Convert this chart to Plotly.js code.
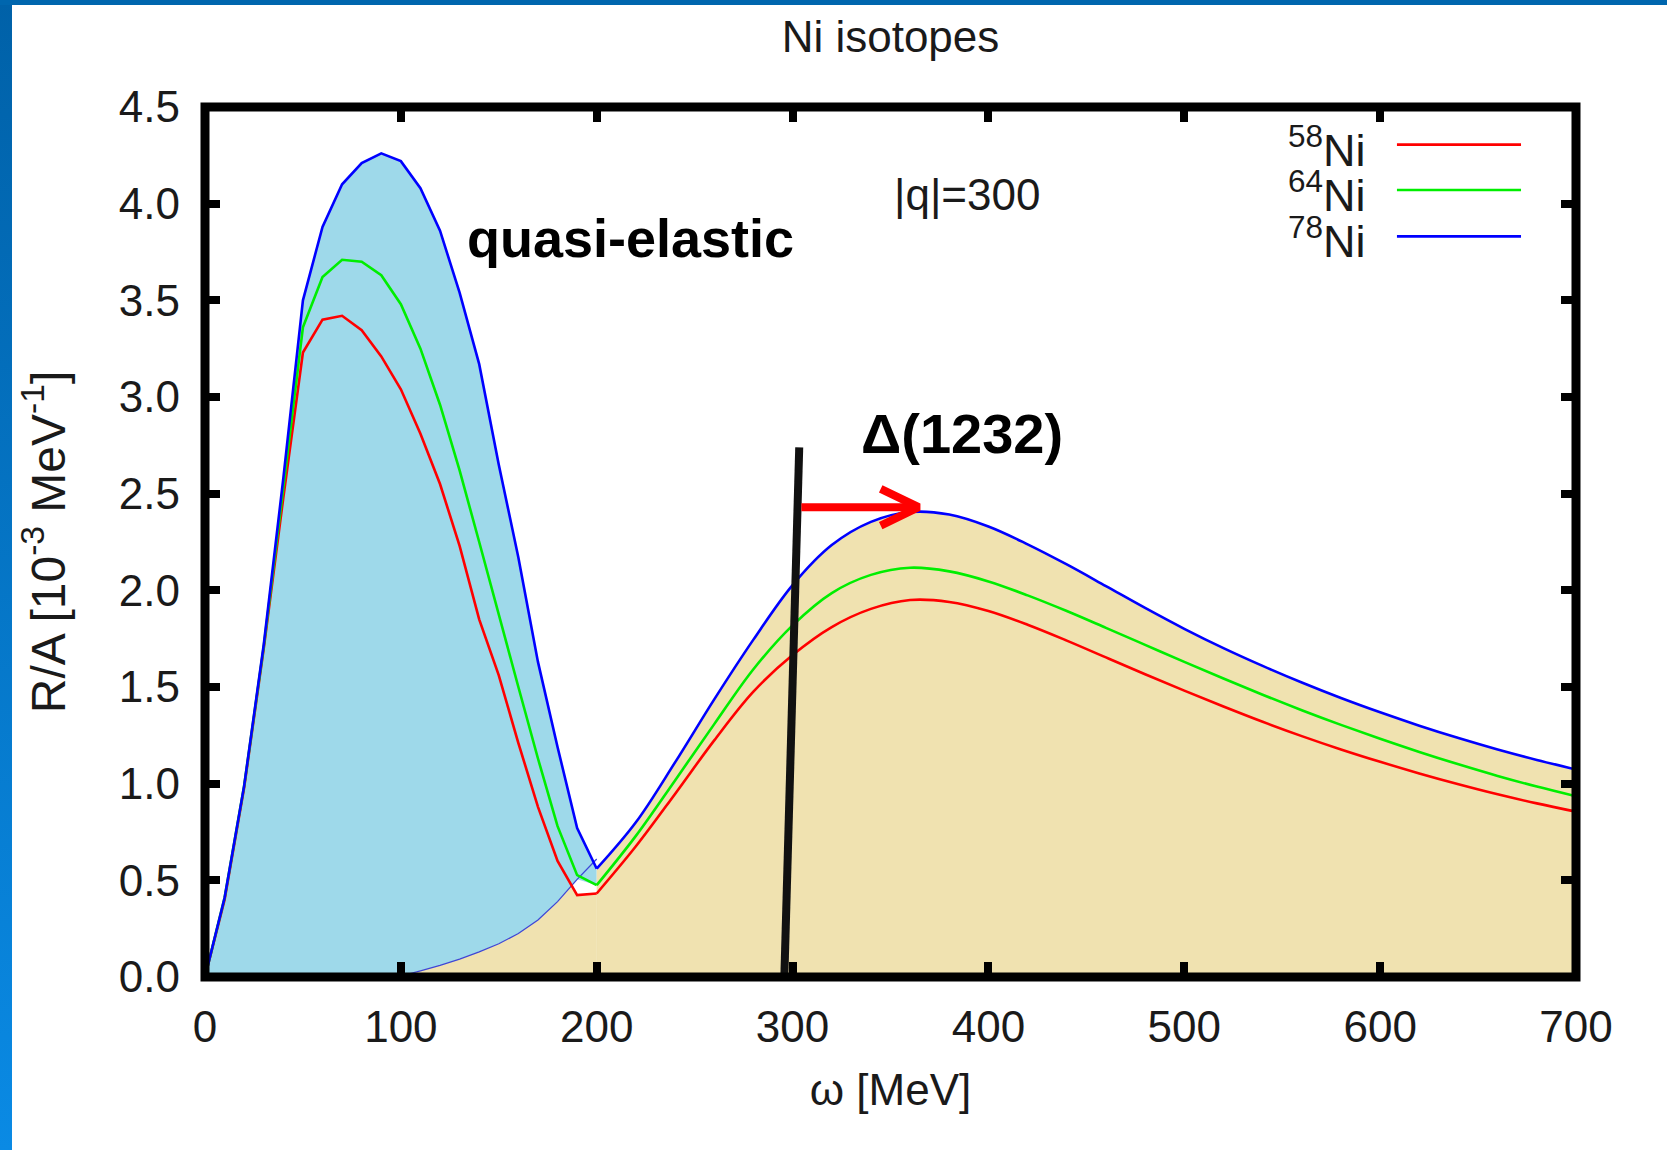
<!DOCTYPE html>
<html>
<head>
<meta charset="utf-8">
<script src="https://cdn.plot.ly/plotly-3.0.1.min.js"></script>
<style>
html,body{margin:0;padding:0;background:#fff;}
#wrap{position:relative;width:1667px;height:1150px;overflow:hidden;background:#fff;}
#chart{position:absolute;left:0;top:0;width:1667px;height:1150px;}
#edgeLeft{position:absolute;left:0;top:0;width:12px;height:1150px;background:linear-gradient(#0061a8,#0a8ae4);z-index:5;}
#edgeTop{position:absolute;left:0;top:0;width:1667px;height:5px;background:#0066ae;z-index:6;}
</style>
</head>
<body>
<div id="wrap"><div id="chart"></div><div id="edgeLeft"></div><div id="edgeTop"></div></div>
<script>
// ---------- data ----------
// quasi-elastic region, omega = 0..200 MeV
const omegaQE = [0,10,20,30,40,50,60,70,80,90,100,110,120,130,140,150,160,170,180,190,200];
const qe58 = [0.00,0.40,0.98,1.70,2.48,3.23,3.40,3.42,3.345,3.21,3.04,2.81,2.55,2.23,1.85,1.56,1.21,0.88,0.60,0.424,0.432];
const qe64 = [0.00,0.41,0.99,1.71,2.53,3.36,3.62,3.71,3.70,3.63,3.48,3.25,2.96,2.62,2.25,1.87,1.50,1.13,0.78,0.527,0.475];
const qe78 = [0.00,0.41,0.99,1.72,2.58,3.50,3.88,4.10,4.21,4.26,4.22,4.08,3.86,3.54,3.17,2.65,2.17,1.63,1.19,0.77,0.56];

// Delta(1232) region, omega = 220..700 MeV
const omegaDelta = [220,240,260,280,300,320,340,360,380,400,420,440,460,480,500,520,540,560,580,600,620,640,660,680,700];
const delta58 = [0.676,0.947,1.224,1.476,1.665,1.810,1.904,1.950,1.940,1.893,1.822,1.740,1.653,1.566,1.481,1.399,1.320,1.246,1.177,1.113,1.053,0.997,0.945,0.898,0.855];
const delta64 = [0.730,1.017,1.308,1.592,1.819,1.986,2.080,2.117,2.098,2.046,1.974,1.893,1.806,1.718,1.630,1.544,1.460,1.380,1.304,1.232,1.164,1.100,1.040,0.985,0.935];
const delta78 = [0.800,1.110,1.436,1.745,2.027,2.234,2.354,2.405,2.392,2.330,2.238,2.134,2.022,1.909,1.801,1.701,1.609,1.523,1.443,1.369,1.300,1.236,1.177,1.123,1.073];

// low-energy tail of the 78Ni Delta contribution (thin line)
const omegaDeltaTail = [90,100,110,120,130,140,150,160,170,180,190,200];
const delta78Tail = [-0.03,0.005,0.032,0.06,0.093,0.13,0.172,0.225,0.295,0.39,0.505,0.61];

const isotopeNames = ['<sup>58</sup>Ni','<sup>64</sup>Ni','<sup>78</sup>Ni'];
const isotopeColors = ['#ff0000','#00ee00','#0000ff'];

const xTicks = [0,100,200,300,400,500,600,700];
const yTicks = [0,0.5,1,1.5,2,2.5,3,3.5,4,4.5];

// guide marks (black line at the free Delta position, red shift arrow)
const guideLineX = [295.8,303.4];
const guideLineY = [0,2.74];
const shiftArrowX = [304.5,362,null,345,364.4,345];
const shiftArrowY = [2.43,2.43,null,2.525,2.43,2.335];

// ---------- build ----------
const FONT = 'Liberation Sans, Arial, Helvetica, sans-serif';
const TXT = '#1a1a1a';
const last = a => a[a.length-1];

// light blue area: under 78Ni quasi-elastic curve, above the Delta tail
const qeFillX = [], qeFillY = [];
omegaQE.forEach((x,i)=>{ qeFillX.push(x); qeFillY.push(qe78[i]); });
for (let i = omegaDeltaTail.length-1; i >= 0; i--) {
  const x = omegaDeltaTail[i];
  const j = omegaQE.indexOf(x);
  qeFillX.push(x);
  qeFillY.push(Math.max(0, Math.min(delta78Tail[i], qe64[j])));
}
qeFillX.push(0); qeFillY.push(0);

// tan area, part A: under the Delta tail (omega <= 200)
const tailFillX = [], tailFillY = [];
for (let i = 0; i < omegaDeltaTail.length; i++) {
  const x = omegaDeltaTail[i];
  const j = omegaQE.indexOf(x);
  const t = delta78Tail[i], r = qe58[j];
  if (i > 0) {
    const xp = omegaDeltaTail[i-1], jp = omegaQE.indexOf(xp);
    const tp = delta78Tail[i-1], rp = qe58[jp];
    const d0 = tp - rp, d1 = t - r;
    if (d0 * d1 < 0) {
      const f = d0 / (d0 - d1);
      tailFillX.push(xp + f*(x-xp));
      tailFillY.push(tp + f*(t-tp));
    }
  }
  tailFillX.push(x); tailFillY.push(Math.max(0, Math.min(t, r)));
}
tailFillX.push(last(omegaDeltaTail), omegaDeltaTail[0]); tailFillY.push(0, 0);

// part B: under the 78Ni Delta curve (omega >= 200), smooth
const d78X = [last(omegaQE)].concat(omegaDelta);
const d78Y = [last(qe78)].concat(delta78);

const traces = [
  {x: qeFillX, y: qeFillY, type:'scatter', mode:'lines', fill:'toself', fillcolor:'#9ed9ea',
   line:{width:0}, hoverinfo:'skip', showlegend:false},
  {x: d78X, y: d78Y, type:'scatter', mode:'lines', fill:'tozeroy', fillcolor:'#f0e2b0',
   line:{width:0, shape:'spline', smoothing:1}, hoverinfo:'skip', showlegend:false},
  {x: tailFillX, y: tailFillY, type:'scatter', mode:'lines', fill:'toself', fillcolor:'#f0e2b0',
   line:{width:0.6, color:'#f0e2b0'}, hoverinfo:'skip', showlegend:false},
  {x: omegaDeltaTail, y: delta78Tail, type:'scatter', mode:'lines',
   line:{color:'#3c46d8', width:1.3}, hoverinfo:'skip', showlegend:false}
];
const qeSets = [qe58, qe64, qe78];
const deltaSets = [delta58, delta64, delta78];
for (let k = 0; k < 3; k++) {
  traces.push({
    x: omegaQE, y: qeSets[k],
    type:'scatter', mode:'lines', name: isotopeNames[k] + ' quasi-elastic',
    line:{color: isotopeColors[k], width:2.6}, showlegend:false
  });
  traces.push({
    x: [last(omegaQE)].concat(omegaDelta), y: [last(qeSets[k])].concat(deltaSets[k]),
    type:'scatter', mode:'lines', name: isotopeNames[k],
    line:{color: isotopeColors[k], width:2.6, shape:'spline', smoothing:1}, showlegend:false
  });
}
traces.push({x: guideLineX, y: guideLineY, type:'scatter', mode:'lines',
  line:{color:'#111111', width:8}, hoverinfo:'skip', showlegend:false});
traces.push({x: shiftArrowX, y: shiftArrowY, type:'scatter', mode:'lines',
  line:{color:'#ff0000', width:8}, hoverinfo:'skip', showlegend:false, connectgaps:false});

// custom gnuplot-style key (label left, sample right)
const keyY = [0.9568, 0.9046, 0.8513];
const annotations = [
  {text:'<b>quasi-elastic</b>', x:217.2, y:3.823, xref:'x', yref:'y', showarrow:false,
   font:{family:FONT, size:54, color:'#000'}},
  {text:'|q|=300', x:389.2, y:4.048, xref:'x', yref:'y', showarrow:false,
   font:{family:FONT, size:44, color:TXT}},
  {text:'<b>Δ(1232)</b>', x:386.4, y:2.809, xref:'x', yref:'y', showarrow:false,
   font:{family:FONT, size:56, color:'#000'}}
];
const shapes = [];
for (let k = 0; k < 3; k++) {
  annotations.push({text: isotopeNames[k], xref:'paper', yref:'paper', x:0.8485, y:keyY[k],
    xanchor:'right', yanchor:'middle', showarrow:false, yshift:-2,
    font:{family:FONT, size:45, color:TXT}});
  shapes.push({type:'line', xref:'paper', yref:'paper', x0:0.8694, x1:0.9599, y0:keyY[k], y1:keyY[k],
    line:{color: isotopeColors[k], width:2.6}, layer:'above'});
}
shapes.push({type:'rect', xref:'paper', yref:'paper', x0:0, x1:1, y0:0, y1:1,
  line:{color:'#000', width:9}, layer:'above'});

const layout = {
  width:1667, height:1150,
  margin:{l:205, r:91, t:107, b:173},
  paper_bgcolor:'#ffffff', plot_bgcolor:'#ffffff',
  font:{family:FONT, color:TXT},
  title:{text:'Ni isotopes', font:{family:FONT, size:44, color:TXT},
         x:0.5, xref:'paper', xanchor:'center', y:0.968, yref:'container', yanchor:'middle'},
  xaxis:{range:[0,700], tickvals:xTicks, ticktext:xTicks.map(String),
    ticks:'inside', ticklen:15, tickwidth:8, tickcolor:'#000', mirror:'ticks',
    showline:false, showgrid:false, zeroline:false, ticklabelstandoff:20,
    tickfont:{family:FONT, size:44, color:TXT},
    title:{text:'ω [MeV]', font:{family:FONT, size:44, color:TXT}, standoff:24}},
  yaxis:{range:[0,4.5], tickvals:yTicks, tickformat:'.1f',
    ticks:'inside', ticklen:15, tickwidth:8, tickcolor:'#000', mirror:'ticks',
    showline:false, showgrid:false, zeroline:false, ticklabelstandoff:24,
    tickfont:{family:FONT, size:44, color:TXT},
    title:{text:'R/A [10<sup>-3</sup> MeV<sup>-1</sup>]', font:{family:FONT, size:48, color:TXT}, standoff:38}},
  annotations: annotations,
  shapes: shapes,
  showlegend:false
};
Plotly.newPlot('chart', traces, layout, {displayModeBar:false, staticPlot:true});
</script>
</body>
</html>
